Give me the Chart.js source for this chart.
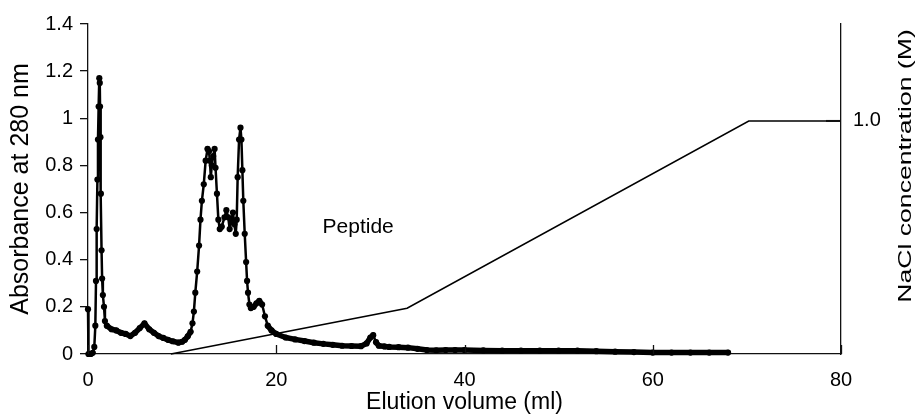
<!DOCTYPE html>
<html>
<head>
<meta charset="utf-8">
<script src="https://cdn.jsdelivr.net/npm/chart.js@4/dist/chart.umd.min.js"></script>
<style>
  body { margin: 0; background: #fff; }
  #chart { display: block; }
</style>
</head>
<body>
<canvas id="chart" width="916" height="416"></canvas>
<script>
// absorbance trace (ml, A280)
const elutionVolume = [
  0, 0.05, 0.3, 0.5, 0.67, 0.78, 0.85, 0.92, 1.0, 1.06, 1.13, 1.2, 1.25, 1.28, 1.32, 1.37, 1.44, 1.5, 1.58, 1.7, 1.8,
  2.0, 2.5, 3.0, 3.5, 4.0, 4.5, 5.0, 5.5, 6.0, 6.5, 7.0, 7.5, 8.0, 8.5, 9.0, 9.6, 10.0, 10.3, 10.6, 10.9,
  11.1, 11.25, 11.4, 11.6, 11.8, 11.95, 12.1, 12.3, 12.5, 12.7, 12.85, 12.95, 13.05, 13.15, 13.3, 13.45, 13.55, 13.7, 13.85,
  14.0, 14.2, 14.5, 14.7, 14.9, 15.05, 15.2, 15.4, 15.55, 15.7, 15.8, 15.9, 16.05, 16.2, 16.3, 16.4, 16.5, 16.65, 16.8, 16.9,
  17.0, 17.15, 17.3, 17.6, 17.9, 18.2, 18.5, 18.8, 19.1, 19.5, 20.0, 21.0, 22.0, 23.0, 24.0, 25.0, 26.0, 27.0, 28.0, 29.0,
  29.6, 30.0, 30.3, 30.6, 30.9, 31.5, 32.0, 33.0, 34.0, 35.0, 36.0, 37.0, 38.0, 39.0, 40.0, 42.0, 44.0, 46.0, 48.0, 50.0,
  52.0, 54.0, 56.0, 58.0, 60.0, 62.0, 64.0, 66.0, 68.0
]
const absorbance = [
  0.19, 0, 0, 0.005, 0.03, 0.12, 0.31, 0.53, 0.74, 0.91, 1.05, 1.17, 1.15, 1.05, 0.92, 0.68, 0.44, 0.32, 0.25, 0.2, 0.14,
  0.12, 0.105, 0.1, 0.09, 0.085, 0.076, 0.09, 0.11, 0.13, 0.105, 0.09, 0.076, 0.068, 0.06, 0.054, 0.048, 0.052, 0.06, 0.075, 0.094,
  0.13, 0.18, 0.26, 0.35, 0.46, 0.57, 0.65, 0.72, 0.82, 0.87, 0.86, 0.82, 0.75, 0.8, 0.84, 0.87, 0.79, 0.68, 0.57,
  0.53, 0.54, 0.58, 0.61, 0.58, 0.53, 0.56, 0.6, 0.55, 0.51, 0.57, 0.75, 0.91, 0.96, 0.91, 0.78, 0.65, 0.51, 0.39, 0.31,
  0.26, 0.21, 0.195, 0.2, 0.215, 0.225, 0.21, 0.16, 0.12, 0.1, 0.085, 0.07, 0.062, 0.055, 0.048, 0.043, 0.039, 0.035, 0.034, 0.033,
  0.045, 0.07, 0.08, 0.05, 0.035, 0.032, 0.03, 0.029, 0.027, 0.022, 0.017, 0.016, 0.017, 0.017, 0.017, 0.015, 0.014, 0.014, 0.014, 0.014,
  0.014, 0.012, 0.01, 0.008, 0.006, 0.006, 0.006, 0.006, 0.006
]

// NaCl gradient (ml, M)
const gradientVolume = [8.8, 33.9, 70.2, 80]
const gradientNaCl = [0, 0.196, 1.0, 1.0]

const xTicks = [0, 20, 40, 60, 80]
const absTicks = [0, 0.2, 0.4, 0.6, 0.8, 1.0, 1.2, 1.4]
const naclTicks = [1.0]

const FONT = '"Liberation Sans", Arial, Helvetica, sans-serif'

const toPoints = (xs, ys) => xs.map((x, i) => ({ x: x, y: ys[i] }))

// thin line on the steep parts, thick where the dense markers merge
const segWidth = ctx => {
  const dx = Math.abs(ctx.p1.x - ctx.p0.x)
  const dy = Math.abs(ctx.p1.y - ctx.p0.y)
  return dy > 2 * dx ? 2.5 : 5.5
}

const extras = {
  id: 'extras',
  afterDraw(chart) {
    const { ctx, scales } = chart
    const x = scales.x, y = scales.y, y2 = scales.y2
    ctx.save()
    ctx.strokeStyle = '#111'
    ctx.lineWidth = 1.3
    // inward ticks on the x axis
    xTicks.forEach(v => {
      const px = Math.round(x.getPixelForValue(v)) + 0.5
      ctx.beginPath()
      ctx.moveTo(px, y.bottom)
      ctx.lineTo(px, y.bottom - 9)
      ctx.stroke()
    })
    // inward tick on the NaCl axis
    ctx.lineWidth = 2
    naclTicks.forEach(v => {
      const py = y2.getPixelForValue(v)
      ctx.beginPath()
      ctx.moveTo(x.right, py)
      ctx.lineTo(x.right - 15, py)
      ctx.stroke()
    })
    ctx.fillStyle = '#000'
    ctx.font = '21px ' + FONT
    ctx.textAlign = 'center'
    ctx.textBaseline = 'middle'
    ctx.fillText('Peptide', x.getPixelForValue(28.7), y.getPixelForValue(0.54))
    // right axis title reads bottom to top, narrow glyphs stretched along the axis
    ctx.font = '19px ' + FONT
    ctx.translate(906, 166)
    ctx.rotate(-Math.PI / 2)
    ctx.scale(1.4, 1)
    ctx.fillText('NaCl concentration (M)', 0, 0)
    ctx.restore()
  }
}

new Chart(document.getElementById('chart'), {
  type: 'line',
  data: {
    datasets: [
      {
        label: 'Absorbance',
        data: toPoints(elutionVolume, absorbance),
        yAxisID: 'y',
        borderColor: '#000',
        backgroundColor: '#000',
        borderWidth: 2,
        borderCapStyle: 'round',
        borderJoinStyle: 'round',
        segment: { borderWidth: segWidth },
        pointRadius: 3.1,
        pointBorderWidth: 0,
        pointBackgroundColor: '#000',
        tension: 0,
        clip: false
      },
      {
        label: 'NaCl',
        data: toPoints(gradientVolume, gradientNaCl),
        yAxisID: 'y2',
        borderColor: '#000',
        borderWidth: 1.6,
        pointRadius: 0,
        tension: 0,
        clip: false
      }
    ]
  },
  options: {
    responsive: false,
    animation: false,
    layout: { padding: { top: 24, left: 0, right: 0, bottom: 0 } },
    plugins: {
      legend: { display: false },
      tooltip: { enabled: false }
    },
    scales: {
      x: {
        type: 'linear',
        min: 0,
        max: 80,
        afterBuildTicks: s => { s.ticks = xTicks.map(v => ({ value: v })) },
        afterFit: s => { s.height = 62 },
        grid: { display: true, drawOnChartArea: false, drawTicks: false },
        border: { display: true, color: '#111', width: 1.3 },
        ticks: { color: '#000', font: { family: FONT, size: 20 }, padding: 14, maxRotation: 0 },
        title: {
          display: true,
          text: 'Elution volume (ml)',
          color: '#000',
          font: { family: FONT, size: 23 },
          padding: { top: 0, bottom: 0 }
        }
      },
      y: {
        position: 'left',
        min: 0,
        max: 1.4,
        afterBuildTicks: s => { s.ticks = absTicks.map(v => ({ value: v })) },
        afterFit: s => { s.width = 88 },
        grid: { display: true, drawOnChartArea: false, drawTicks: true, tickLength: 8, color: '#111', lineWidth: 1.3 },
        border: { display: true, color: '#111', width: 1.3 },
        ticks: {
          color: '#000',
          font: { family: FONT, size: 20 },
          padding: 7,
          callback: v => String(Number(v.toFixed(1)))
        },
        title: {
          display: true,
          text: 'Absorbance at 280 nm',
          color: '#000',
          font: { family: FONT, size: 25 },
          padding: { top: 6, bottom: 0 }
        }
      },
      y2: {
        position: 'right',
        min: 0,
        max: 1.416,
        afterBuildTicks: s => { s.ticks = naclTicks.map(v => ({ value: v })) },
        afterFit: s => { s.width = 75 },
        grid: { display: true, drawOnChartArea: false, drawTicks: false },
        border: { display: true, color: '#111', width: 1.3 },
        ticks: {
          color: '#000',
          font: { family: FONT, size: 20 },
          padding: 12,
          callback: v => v.toFixed(1)
        }
      }
    }
  },
  plugins: [extras]
})
</script>
</body>
</html>
